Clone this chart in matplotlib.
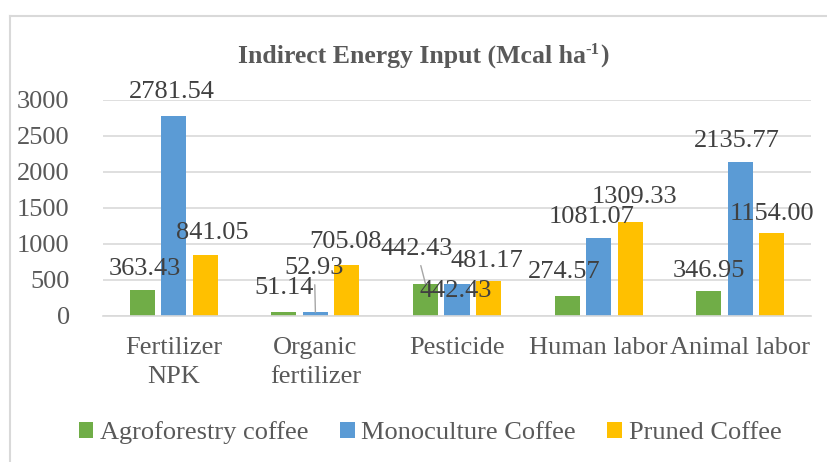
import matplotlib
matplotlib.use("Agg")
import matplotlib.pyplot as plt
import numpy as np
from matplotlib.patches import Patch
from matplotlib.lines import Line2D

categories = ["Fertilizer\nNPK", "Organic\nfertilizer", "Pesticide", "Human labor", "Animal labor"]
series_names = ["Agroforestry coffee", "Monoculture Coffee", "Pruned Coffee"]
agroforestry = [363.43, 51.14, 442.43, 274.57, 346.95]
monoculture = [2781.54, 52.93, 442.43, 1081.07, 2135.77]
pruned = [841.05, 705.08, 481.17, 1309.33, 1154.00]
yticks = [0, 500, 1000, 1500, 2000, 2500, 3000]

colors = ["#70AD47", "#5B9BD5", "#FFC000"]
# label offsets in pixels (dx, dy of baseline above bar top), per series per category
offsets = [
    [(2, 15), (0, 18), (-9, 29), (-3, 18), (0, 14)],
    [(-2, 18), (-1, 38), (-1, -13), (-7, 15), (-3, 15)],
    [(7, 16), (-1, 17), (-2, 14), (4, 19), (0, 13)],
]
leader = [[False, False, True, False, False],
          [False, True, False, False, False],
          [False, False, False, False, False]]

FONT = "Liberation Serif"
FS = 19
W, H = 827, 462
fig = plt.figure(figsize=(W / 100, H / 100), dpi=100)
ax = fig.add_axes([103 / W, 1 - 316 / H, (811 - 103) / W, (316 - 100) / H])

x = np.arange(len(categories))
bw = 0.177
step = 0.222
data = [agroforestry, monoculture, pruned]
for i, vals in enumerate(data):
    xs = x + (i - 1) * step
    ax.bar(xs, vals, width=bw, color=colors[i], zorder=2, label=series_names[i])

for i, vals in enumerate(data):
    xs = x + (i - 1) * step
    for j, v in enumerate(vals):
        dx, dy = offsets[i][j]
        kw = {}
        if leader[i][j]:
            kw["arrowprops"] = dict(arrowstyle="-", color="#A6A6A6", lw=1,
                                    shrinkA=2, shrinkB=0)
        ax.annotate(f"{v:.2f}", xy=(xs[j], v), xytext=(dx, dy),
                    textcoords="offset pixels", ha="center", va="baseline",
                    fontsize=FS, family=FONT, color="#404040", zorder=5, **kw)

ax.set_ylim(0, 3000)
ax.set_xlim(-0.5, len(categories) - 0.5)
ax.set_yticks(yticks)
ax.set_yticklabels([str(t) for t in yticks], family=FONT, fontsize=FS, color="#595959")
ax.set_xticks(x)
ax.set_xticklabels(categories, family=FONT, fontsize=FS, color="#595959", linespacing=1.45)
ax.tick_params(axis="both", length=0)
ax.tick_params(axis="y", pad=24)
ax.tick_params(axis="x", pad=15)
ax.grid(axis="y", color="#D9D9D9", lw=1.2, zorder=0)
for s in ["left", "right", "top"]:
    ax.spines[s].set_visible(False)
ax.spines["bottom"].set_color("#D9D9D9")
ax.spines["bottom"].set_linewidth(1.2)
ax.set_axisbelow(True)

# chart frame
fig.add_artist(Line2D([10 / W, 10 / W], [0, 1 - 16 / H], color="#D9D9D9", lw=1.5))
fig.add_artist(Line2D([10 / W, 1], [1 - 16 / H, 1 - 16 / H], color="#D9D9D9", lw=1.5))

# title with superscript
r = fig.canvas.get_renderer()
tprops = dict(family=FONT, fontweight="bold", color="#595959")
t1 = fig.text(0, 0, "Indirect Energy Input (Mcal ha", fontsize=18.5, **tprops)
t2 = fig.text(0, 0, "-1", fontsize=12, **tprops)
t3 = fig.text(0, 0, ")", fontsize=18.5, **tprops)
w1 = t1.get_window_extent(r).width
w2 = t2.get_window_extent(r).width
w3 = t3.get_window_extent(r).width
total = w1 + w2 + w3
cx = 423
base = H - 63
x0 = cx - total / 2
t1.set_position((x0 / W, base / H))
t2.set_position(((x0 + w1) / W, (base + 9) / H))
t3.set_position(((x0 + w1 + w2) / W, base / H))
for t in (t1, t2, t3):
    t.set_va("baseline")

handles = [Patch(facecolor=c, edgecolor="none") for c in colors]
fig.legend(handles, series_names, loc="center", bbox_to_anchor=(430 / W, 1 - 433 / H),
           ncol=3, frameon=False, prop=dict(family=FONT, size=FS),
           labelcolor="#595959", handlelength=0.55, handleheight=0.55,
           handletextpad=0.25, columnspacing=1.2, borderpad=0)

fig.savefig("out.png", dpi=100)
